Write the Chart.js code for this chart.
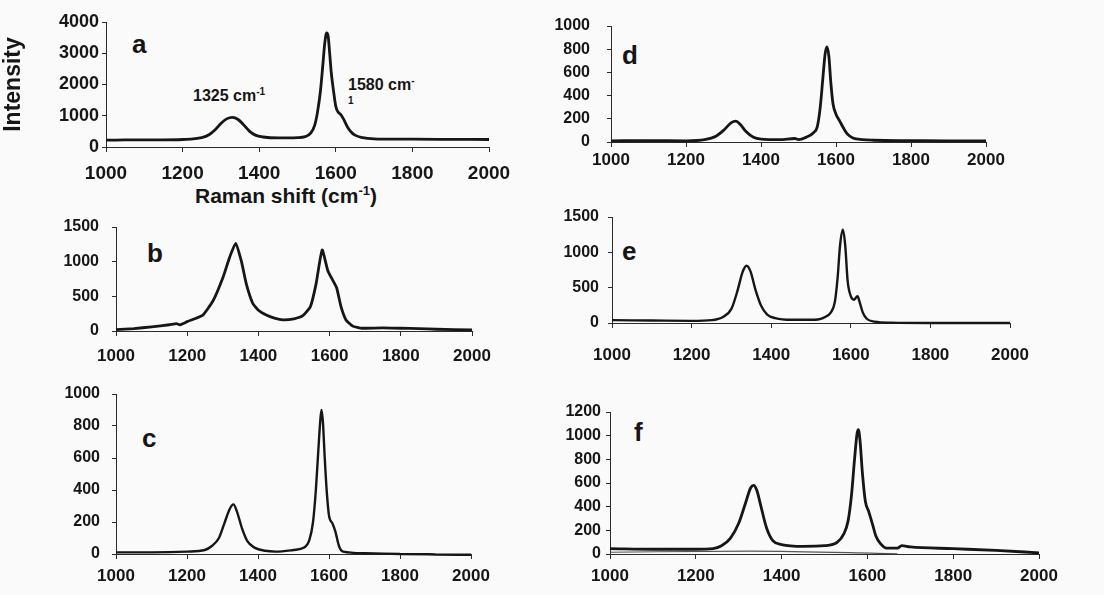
<!DOCTYPE html>
<html>
<head>
<meta charset="UTF-8">
<title>Raman spectra a-f</title>
<script src="https://cdn.jsdelivr.net/npm/chart.js"></script>
<style>
  body { margin: 0; width: 1104px; height: 595px; position: relative; overflow: hidden;
         background: #fafafa; color: #161616; font-family: "Liberation Sans", Arial, sans-serif; }
  canvas { position: absolute; }
  .tag { position: absolute; font-weight: bold; font-size: 26px; line-height: 26px; }
  .note { position: absolute; font-weight: bold; font-size: 16px; line-height: 16px; white-space: nowrap; }
  .note sup { font-size: 10px; vertical-align: 6px; }
  .xtitle { position: absolute; font-weight: bold; font-size: 21px; line-height: 21px; white-space: nowrap; }
  .xtitle sup { font-size: 13px; vertical-align: 8px; }
</style>
</head>
<body>

<div class="tag" style="left:132px; top:31px">a</div>
<div class="tag" style="left:147px; top:240px">b</div>
<div class="tag" style="left:142px; top:425px">c</div>
<div class="tag" style="left:622px; top:42px">d</div>
<div class="tag" style="left:622px; top:238px">e</div>
<div class="tag" style="left:634px; top:419px">f</div>

<div class="note" style="left:193px; top:84px">1325 cm<sup>-1</sup></div>
<div class="note" style="left:348px; top:73px">1580 cm<sup>-</sup></div>
<div class="note" style="left:348px; top:93px; font-size:10px">1</div>
<div class="xtitle" style="left:195px; top:180px">Raman shift (cm<sup>-1</sup>)</div>

<script>
// a
const shiftA = [1000,1050,1100,1150,1200,1250,1270,1285,1300,1315,1330,1345,1360,1375,1390,1410,1450,1500,1520,1535,1545,1552,1560,1566,1571,1576,1580,1584,1588,1594,1600,1606,1612,1620,1630,1640,1650,1670,1700,1750,1800,1900,2000];
const intensityA = [220,225,230,230,240,300,400,550,750,900,950,880,700,500,380,320,290,300,330,450,700,1100,1800,2600,3300,3650,3550,3000,2400,1800,1300,1120,1050,900,650,480,380,300,260,250,250,245,240];

// b
const shiftB = [1000,1050,1100,1150,1170,1180,1200,1244,1273,1301,1319,1336,1352,1366,1384,1400,1422,1445,1469,1500,1525,1546,1562,1579,1595,1609,1620,1632,1646,1665,1680,1690,1750,1800,1850,1900,2000];
const intensityB = [20,35,60,90,105,90,135,230,440,780,1060,1265,1010,680,400,300,230,185,160,175,220,350,680,1170,870,730,620,350,160,70,50,40,45,40,35,25,15];

// c
const shiftC = [1000,1100,1200,1250,1270,1290,1305,1320,1331,1340,1355,1370,1390,1420,1450,1500,1530,1545,1555,1563,1570,1576,1579,1583,1588,1594,1600,1610,1618,1628,1640,1700,1800,1900,2000];
const intensityC = [10,10,15,25,50,100,190,280,310,270,160,80,40,20,15,25,40,90,200,400,650,850,900,820,600,380,240,190,140,50,15,5,0,-3,-5];

// d
const shiftD = [1000,1100,1200,1250,1280,1300,1320,1333,1345,1360,1380,1400,1450,1490,1500,1520,1540,1550,1558,1565,1571,1576,1581,1586,1592,1600,1610,1620,1630,1645,1670,1700,1800,1900,2000];
const intensityD = [10,12,10,20,50,100,165,180,150,90,40,25,20,30,20,40,80,130,300,550,760,820,740,520,330,240,180,120,70,35,20,15,12,10,10];

// e
const shiftE = [1000,1100,1200,1250,1280,1300,1315,1328,1338,1348,1360,1375,1390,1410,1450,1500,1530,1550,1560,1567,1573,1580,1586,1592,1600,1608,1613,1617,1622,1630,1640,1660,1700,1800,2000];
const intensityE = [40,35,30,40,90,200,450,720,810,730,480,240,120,70,45,45,70,150,300,650,1100,1320,1100,600,380,330,360,380,300,150,60,20,5,0,0];

// f (plus the faint trace near zero)
const shiftF = [1000,1100,1200,1240,1260,1280,1300,1315,1328,1335,1342,1352,1365,1380,1400,1450,1500,1530,1545,1555,1563,1570,1576,1579,1583,1588,1595,1603,1612,1620,1630,1645,1670,1680,1700,1800,1900,2000];
const intensityF = [45,40,40,45,70,130,260,420,560,580,540,400,220,110,80,65,70,100,170,280,500,800,1020,1050,950,700,450,360,250,150,90,50,50,70,60,45,30,10];
const shiftF2 = [1000,1330,1670];
const intensityF2 = [15,25,2];

const xTicks = [1000,1200,1400,1600,1800,2000];

const ink = '#161616';
const axisInk = '#2b2b2b';

function series(shift, intensity, width, color, straight) {
  const ds = {
    data: shift.map((s, i) => ({x: s, y: intensity[i]})),
    borderColor: color || ink,
    borderWidth: width || 2.6,
    pointRadius: 0,
    fill: false,
    clip: 6
  };
  if (straight) ds.tension = 0.15;
  else ds.cubicInterpolationMode = 'monotone';
  return ds;
}

function drawPanel(p) {
  const ML = p.ml || 80, MT = 14, MR = 32, MB = 40;
  const c = document.createElement('canvas');
  c.width = p.right - p.left + ML + MR;
  c.height = p.bottom - p.top + MT + MB;
  c.style.left = (p.left - ML) + 'px';
  c.style.top = (p.top - MT) + 'px';
  document.body.appendChild(c);

  const fam = '"Liberation Sans", Arial, sans-serif';
  new Chart(c, {
    type: 'line',
    data: {datasets: p.datasets},
    options: {
      responsive: false,
      animation: false,
      events: [],
      layout: {padding: {top: MT, right: MR, left: 0, bottom: 0}},
      plugins: {legend: {display: false}, tooltip: {enabled: false}},
      scales: {
        x: {
          type: 'linear', min: xTicks[0], max: xTicks[xTicks.length - 1],
          afterBuildTicks: s => { s.ticks = xTicks.map(v => ({value: v})); },
          ticks: {callback: v => String(v), color: ink, padding: p.xPad, maxRotation: 0, autoSkip: false,
                  font: {family: fam, size: p.xFont, weight: 'bold'}},
          grid: {drawOnChartArea: false, tickLength: 5, color: axisInk},
          border: {color: axisInk, width: 1},
          afterFit: s => { s.height = MB; s.paddingLeft = 0; s.paddingRight = 0; }
        },
        y: {
          min: 0, max: p.yMax,
          ticks: {stepSize: p.yStep, callback: v => String(v), color: ink, padding: p.yPad,
                  font: {family: fam, size: p.yFont, weight: 'bold'}},
          grid: {drawOnChartArea: false, tickLength: 4, color: axisInk},
          border: {color: axisInk, width: 1},
          title: p.yTitle ? {display: true, text: p.yTitle, color: ink, padding: {top: 0, bottom: 0},
                             font: {family: fam, size: 23, weight: 'bold'}} : {display: false},
          afterFit: s => { s.width = ML; s.paddingTop = 0; s.paddingBottom = 0; }
        }
      }
    }
  });
}

drawPanel({left: 106, top: 22, right: 489, bottom: 147, ml: 106, yMax: 4000, yStep: 1000,
           xFont: 19, yFont: 18, xPad: 10, yPad: 3, yTitle: 'Intensity',
           datasets: [series(shiftA, intensityA, 2.8)]});
drawPanel({left: 116, top: 227, right: 472, bottom: 331, yMax: 1500, yStep: 500,
           xFont: 17, yFont: 16, xPad: 10, yPad: 13,
           datasets: [series(shiftB, intensityB, 2.8, null, true)]});
drawPanel({left: 116, top: 394, right: 471, bottom: 554, yMax: 1000, yStep: 200,
           xFont: 17, yFont: 16, xPad: 7, yPad: 12,
           datasets: [series(shiftC, intensityC, 2.4)]});
drawPanel({left: 611, top: 26, right: 986, bottom: 142, yMax: 1000, yStep: 200,
           xFont: 17, yFont: 16, xPad: 3, yPad: 17,
           datasets: [series(shiftD, intensityD, 2.8)]});
drawPanel({left: 612, top: 217, right: 1010, bottom: 323, yMax: 1500, yStep: 500,
           xFont: 17, yFont: 16, xPad: 17, yPad: 9,
           datasets: [series(shiftE, intensityE, 2.4)]});
drawPanel({left: 610, top: 412, right: 1039, bottom: 554, yMax: 1200, yStep: 200,
           xFont: 17, yFont: 16, xPad: 7, yPad: 5,
           datasets: [series(shiftF, intensityF, 2.8), series(shiftF2, intensityF2, 1.2, '#555')]});
</script>
</body>
</html>
